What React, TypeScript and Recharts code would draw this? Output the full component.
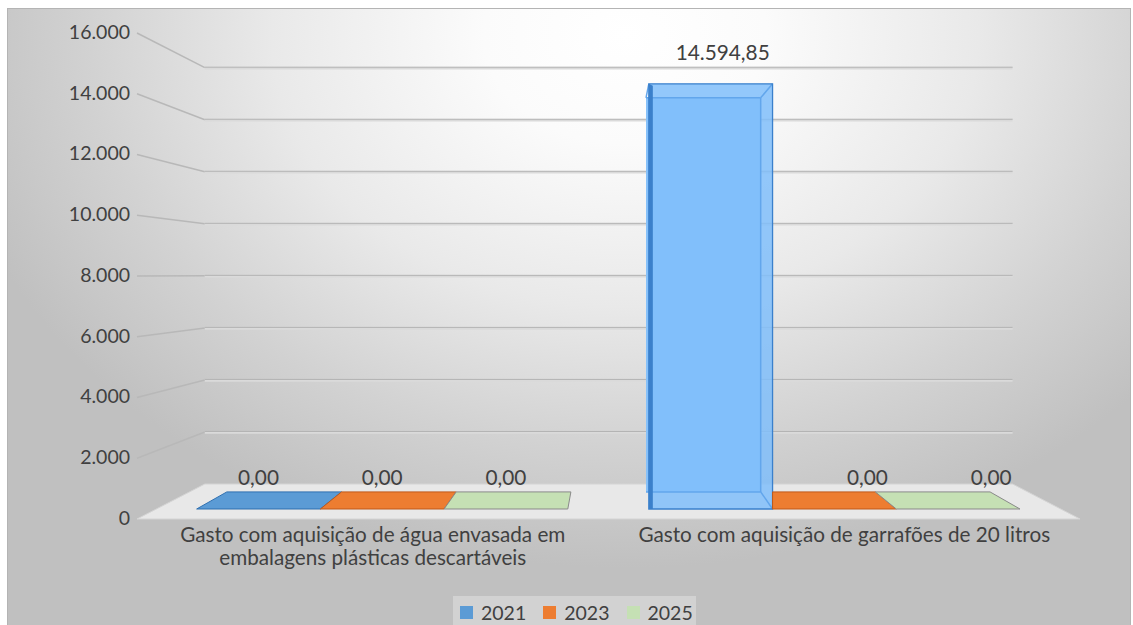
import React from "react";
import { BarChart, Bar, XAxis, YAxis, CartesianGrid, Legend, LabelList } from "recharts";

const categories = [
  "Gasto com aquisição de água envasada em embalagens plásticas descartáveis",
  "Gasto com aquisição de garrafões de 20 litros",
];
const values2021 = [0, 14594.85];
const values2023 = [0, 0];
const values2025 = [0, 0];
const seriesNames = ["2021", "2023", "2025"];
const seriesKeys = ["s2021", "s2023", "s2025"];
const seriesColors = ["#5b9bd5", "#ed7d31", "#c5e0b4"];
const seriesEdges = ["#2e6fb0", "#c0591a", "#8a8a8a"];
const yTicks = [0, 2000, 4000, 6000, 8000, 10000, 12000, 14000, 16000];
const yTickLabels = ["0", "2.000", "4.000", "6.000", "8.000", "10.000", "12.000", "14.000", "16.000"];

const data = categories.map((c, i) => ({
  category: c,
  s2021: values2021[i],
  s2023: values2023[i],
  s2025: values2025[i],
}));

const W = 1133;
const H = 625;
const Y_AXIS_W = 60;
const X_AXIS_H = 30;
const MARGIN = { top: 33, right: 53, bottom: 76, left: 77 };
const PLOT_LEFT = MARGIN.left + Y_AXIS_W;
const PLOT_RIGHT = W - MARGIN.right;
const PLOT_BOTTOM = H - MARGIN.bottom - X_AXIS_H;
const VP = { x: (PLOT_LEFT + PLOT_RIGHT) / 2 + 1.5, y: 275 };
const F_BAR_FRONT = 0.959;
const F_BAR_BACK = 0.889;
const F_WALL = 0.8566;
const FONT = "Lato, 'Open Sans', sans-serif";
const TEXT_COLOR = "#404040";
const CAT_FONT_SIZE = 20.7;
const CAT_MAX_WIDTH = 440;

const proj = (x: number, y: number, f: number): [number, number] => [
  VP.x + (x - VP.x) * f,
  VP.y + (y - VP.y) * f,
];
const pts = (...ps: [number, number][]) => ps.map((p) => `${p[0]},${p[1]}`).join(" ");

const fmt = (v: number) => {
  const [i, d] = v.toFixed(2).split(".");
  return i.replace(/\B(?=(\d{3})+(?!\d))/g, ".") + "," + d;
};

let measureCtx: CanvasRenderingContext2D | null = null;
const measure = (s: string) => {
  if (!measureCtx) {
    measureCtx = document.createElement("canvas").getContext("2d");
  }
  if (!measureCtx) return s.length * CAT_FONT_SIZE * 0.5;
  measureCtx.font = `${CAT_FONT_SIZE}px Lato`;
  return measureCtx.measureText(s).width;
};
const wrap = (s: string, maxW: number) => {
  const words = s.split(" ");
  const lines: string[] = [];
  let cur = "";
  for (const w of words) {
    const next = cur ? cur + " " + w : w;
    if (cur && measure(next) > maxW) {
      lines.push(cur);
      cur = w;
    } else {
      cur = next;
    }
  }
  if (cur) lines.push(cur);
  return lines;
};

const GridLine = (props: any) => {
  const { x1, x2, y1 } = props;
  const [bl, by] = proj(x1, y1, F_WALL);
  const [br] = proj(x2, y1, F_WALL);
  if (Math.abs(y1 - PLOT_BOTTOM) < 0.5) {
    return (
      <polygon
        key={props.key}
        points={pts([x1, y1], [x2, y1], [br, by], [bl, by])}
        fill="#e8e8e8"
        stroke="#d4d4d4"
        strokeWidth={1}
      />
    );
  }
  return (
    <g key={props.key}>
      <line x1={x1} y1={y1} x2={bl} y2={by} stroke="#b8b8b8" strokeWidth={1.5} />
      <line x1={bl} y1={by + 0.5} x2={br} y2={by + 0.5} stroke="#dadada" strokeWidth={2.5} />
      <line x1={bl} y1={by - 0.5} x2={br} y2={by - 0.5} stroke="#b3b3b3" strokeWidth={1} />
    </g>
  );
};

const YTick = (props: any) => {
  const { y, payload } = props;
  const idx = yTicks.indexOf(payload.value);
  return (
    <text x={PLOT_LEFT - 7} y={y - 1} dy="0.35em" textAnchor="end" fill={TEXT_COLOR} fontSize={19.5} fontFamily={FONT}>
      {yTickLabels[idx]}
    </text>
  );
};

const XTick = (props: any) => {
  const { x, y, payload } = props;
  const lines = wrap(String(payload.value), CAT_MAX_WIDTH);
  return (
    <text x={x} y={y + 14.5} textAnchor="middle" fill={TEXT_COLOR} fontSize={CAT_FONT_SIZE} fontFamily={FONT}>
      {lines.map((l, i) => (
        <tspan key={i} x={x} dy={i === 0 ? 0 : 23}>
          {l}
        </tspan>
      ))}
    </text>
  );
};

const makeShape = (si: number) => (props: any) => {
  const { x, y, width, height, payload } = props;
  const top = Math.min(y, y + height);
  const bot = Math.max(y, y + height);
  const x0 = x;
  const x1 = x + width;
  const ftl = proj(x0, top, F_BAR_FRONT);
  const ftr = proj(x1, top, F_BAR_FRONT);
  const fbl = proj(x0, bot, F_BAR_FRONT);
  const fbr = proj(x1, bot, F_BAR_FRONT);
  const btl = proj(x0, top, F_BAR_BACK);
  const btr = proj(x1, top, F_BAR_BACK);
  const bbl = proj(x0, bot, F_BAR_BACK);
  const bbr = proj(x1, bot, F_BAR_BACK);
  if (bot - top < 1) {
    let backLeft = btl;
    if (si > 0 && payload && payload[seriesKeys[si - 1]] > 0 && btl[0] < ftl[0]) {
      backLeft = [ftl[0], btl[1]];
    }
    return (
      <polygon
        points={pts(ftl, ftr, btr, backLeft)}
        fill={seriesColors[si]}
        stroke={seriesEdges[si]}
        strokeWidth={1}
        strokeLinejoin="round"
      />
    );
  }
  const edge = "#62a6ec";
  return (
    <g>
      <polygon points={pts(btl, btr, bbr, bbl)} fill="#86c1fa" />
      <polygon points={pts(ftl, ftr, fbr, fbl)} fill="rgba(128,190,250,0.85)" />
      <line x1={btl[0]} y1={btl[1]} x2={btr[0]} y2={btr[1]} stroke={edge} strokeWidth={1.5} />
      <line x1={btr[0]} y1={btr[1]} x2={bbr[0]} y2={bbr[1]} stroke={edge} strokeWidth={1.5} />
      <line x1={bbl[0]} y1={bbl[1]} x2={bbr[0]} y2={bbr[1]} stroke={edge} strokeWidth={1.5} />
      <line x1={ftr[0]} y1={ftr[1]} x2={btr[0]} y2={btr[1]} stroke={edge} strokeWidth={1.5} />
      <line x1={fbr[0]} y1={fbr[1]} x2={bbr[0]} y2={bbr[1]} stroke={edge} strokeWidth={1.5} />
      <line x1={ftl[0]} y1={ftl[1]} x2={btl[0]} y2={btl[1]} stroke={edge} strokeWidth={1.5} />
      <polygon
        points={pts(ftl, [ftl[0] + 4, ftl[1] + 2], [fbl[0] + 4, fbl[1]], fbl)}
        fill="#3b80cb"
      />
      <polygon points={pts(ftl, ftr, fbr, fbl)} fill="none" stroke="#3a80cc" strokeWidth={1.3} />
    </g>
  );
};

const BarLabel = (props: any) => {
  const vb = props.viewBox && props.viewBox.width !== undefined ? props.viewBox : props;
  const { x, y, width, height } = vb;
  const value = Number(props.value);
  const top = Math.min(y, y + height);
  const [px, py] = proj(x + width / 2, top, F_BAR_FRONT);
  const shift = px > VP.x ? (value > 0 ? 12 : 33) : 0;
  return (
    <text
      x={px + shift}
      y={py - 31}
      dy="0.35em"
      textAnchor="middle"
      fill={TEXT_COLOR}
      fontSize={20.8}
      fontFamily={FONT}
    >
      {fmt(value)}
    </text>
  );
};

const LegendContent = (props: any) => {
  const payload = props.payload || [];
  return (
    <div
      style={{
        display: "flex",
        alignItems: "center",
        height: 32,
        background: "#d2d2d2",
        padding: "0 8px 0 7px",
        boxSizing: "border-box",
        fontFamily: FONT,
        fontSize: 19.5,
        color: TEXT_COLOR,
        width: 243,
      }}
    >
      {payload.map((p: any, i: number) => (
        <span key={i} style={{ display: "flex", alignItems: "center", marginRight: i < payload.length - 1 ? 17 : 0 }}>
          <span style={{ width: 13, height: 13, background: p.color, marginRight: 8, display: "inline-block" }} />
          <span>{p.value}</span>
        </span>
      ))}
    </div>
  );
};

export default function App() {
  return (
    <div style={{ position: "absolute", left: 0, top: 0, width: W, height: H, background: "#ffffff", overflow: "hidden" }}>
      <div
        style={{
          position: "absolute",
          left: 7,
          top: 8,
          width: 1124,
          height: 640,
          boxSizing: "border-box",
          border: "1px solid #b4b4b4",
          background:
            "radial-gradient(ellipse 70% 95% at 55% 4%, #ffffff 0%, #fbfbfb 18%, #e9e9e9 45%, #d2d2d2 68%, #c0c0c0 88%)",
        }}
      />
      <div style={{ position: "absolute", left: 0, top: 0 }}>
        <BarChart width={W} height={H} data={data} margin={MARGIN} barGap={0} barCategoryGap={42}>
          <CartesianGrid vertical={false} horizontal={GridLine as any} />
          <XAxis
            dataKey="category"
            height={X_AXIS_H}
            axisLine={false}
            tickLine={false}
            interval={0}
            tick={<XTick />}
          />
          <YAxis
            width={Y_AXIS_W}
            domain={[0, 16000]}
            ticks={yTicks}
            axisLine={false}
            tickLine={false}
            interval={0}
            tick={<YTick />}
          />
          <Legend
            layout="horizontal"
            verticalAlign="middle"
            align="center"
            content={<LegendContent />}
            wrapperStyle={{ position: "absolute", left: 453, top: 596, width: 243, height: 32 }}
          />
          {seriesKeys.map((k, si) => (
            <Bar
              key={k}
              dataKey={k}
              name={seriesNames[si]}
              fill={seriesColors[si]}
              isAnimationActive={false}
              shape={makeShape(si)}
            >
              <LabelList dataKey={k} content={<BarLabel />} />
            </Bar>
          ))}
        </BarChart>
      </div>
    </div>
  );
}
